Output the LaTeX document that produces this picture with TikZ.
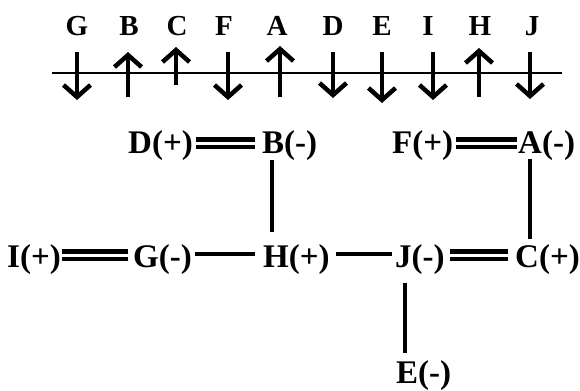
\documentclass[tikz,border=0pt]{standalone}
\usepackage{fontspec}
\setmainfont{Liberation Serif}
\usetikzlibrary{arrows.meta,calc}
\begin{document}
\begin{tikzpicture}[x=1bp,y=-1bp,
  lbl/.style={inner sep=0pt, anchor=base west, font=\fontsize{33bp}{36bp}\selectfont\bfseries},
  toplbl/.style={inner sep=0pt, anchor=base, font=\fontsize{29bp}{32bp}\selectfont\bfseries},
  arr/.style={line width=4.5bp, -{Straight Barb[length=12bp,width=27bp,line width=4.5bp]}},
  sline/.style={line width=4.5bp},
  dline/.style={line width=4.5bp, double distance=3bp},
  axis/.style={line width=1.6bp},
]
\useasboundingbox (0,0) rectangle (580,390);

% top row of letters
\node[toplbl] (tG) at (77,35) {G};
\node[toplbl] (tB) at (129,35) {B};
\node[toplbl] (tC) at (177,35) {C};
\node[toplbl] (tF) at (224,35) {F};
\node[toplbl] (tA) at (277,35) {A};
\node[toplbl] (tD) at (333,35) {D};
\node[toplbl] (tE) at (382,35) {E};
\node[toplbl] (tI) at (428,35) {I};
\node[toplbl] (tH) at (480,35) {H};
\node[toplbl] (tJ) at (532,35) {J};

\coordinate (ax1) at (52,73);
\coordinate (ax2) at (562,73);
\draw[axis] (ax1) -- (ax2);

% spin arrows
\draw[arr] (77,52) -- (77,100);
\draw[arr] (128,97) -- (128,52);
\draw[arr] (176,85) -- (176,47);
\draw[arr] (228,52) -- (228,100);
\draw[arr] (280,97) -- (280,46);
\draw[arr] (333,52) -- (333,98);
\draw[arr] (382,52) -- (382,103);
\draw[arr] (433,52) -- (433,100);
\draw[arr] (479,97) -- (479,48);
\draw[arr] (530,52) -- (530,99);

% labels
\node[lbl] (nD) at (128,153) {D(+)};
\node[lbl] (nB) at (262,153) {B(-)};
\node[lbl] (nF) at (392,153) {F(+)};
\node[lbl] (nA) at (518,153) {A(-)};
\node[lbl] (nI) at (7,267) {I(+)};
\node[lbl] (nG) at (133,267) {G(-)};
\node[lbl] (nH) at (263,267) {H(+)};
\node[lbl] (nJ) at (395,267) {J(-)};
\node[lbl] (nC) at (515,267) {C(+)};
\node[lbl] (nE) at (396,383) {E(-)};

% horizontal connectors
\draw[dline] ($(nD.base east)+(3,-10)$) -- ($(nB.base west)+(-7,-10)$);
\draw[dline] ($(nF.base east)+(3,-10)$) -- ($(nA.base west)+(-1,-10)$);
\draw[dline] ($(nI.base east)+(1,-12)$) -- ($(nG.base west)+(-5,-12)$);
\draw[sline] ($(nG.base east)+(3,-13)$) -- ($(nH.base west)+(-8,-13)$);
\draw[sline] ($(nH.base east)+(6,-13)$) -- ($(nJ.base west)+(-3,-13)$);
\draw[dline] ($(nJ.base east)+(5,-12)$) -- ($(nC.base west)+(-7,-12)$);

% vertical connectors
\path (nB.base west) ++(10,7) coordinate (b1);
\path (nH.base) ++(0,-35) coordinate (h1);
\draw[sline] (b1) -- (b1 |- h1);
\path (nA.base west) ++(12,6) coordinate (a1);
\path (nC.base) ++(0,-28) coordinate (c1);
\draw[sline] (a1) -- (a1 |- c1);
\path (nJ.base west) ++(10,16) coordinate (j1);
\path (nE.base) ++(0,-30) coordinate (e1);
\draw[sline] (j1) -- (j1 |- e1);
\end{tikzpicture}
\end{document}
